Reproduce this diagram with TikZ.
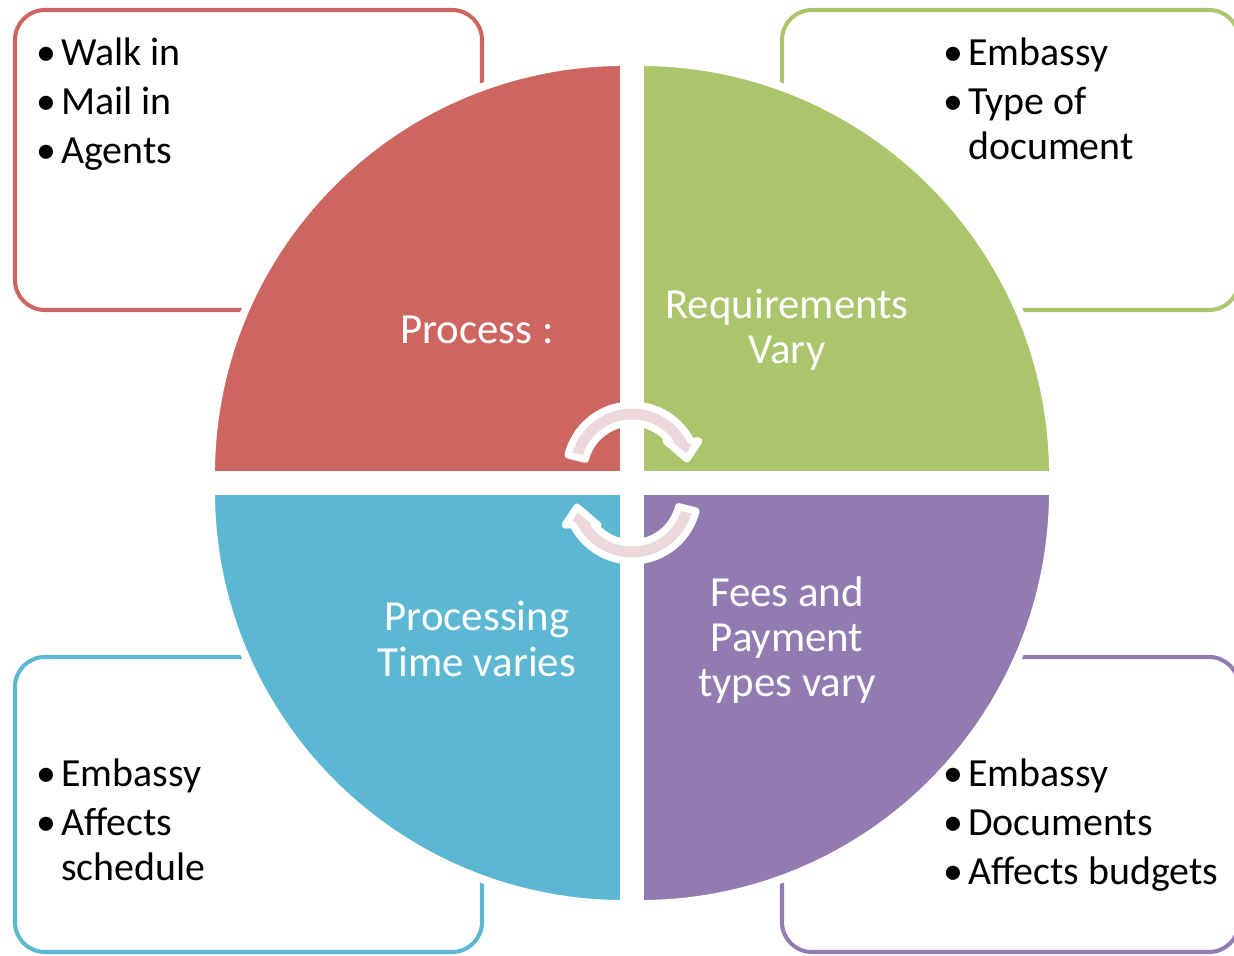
\documentclass[tikz,border=0pt]{standalone}
\usepackage{fontspec}
\setmainfont{Carlito}

\definecolor{procred}{HTML}{CD6660}
\definecolor{reqgreen}{HTML}{ABC56C}
\definecolor{timeblue}{HTML}{5CB8D2}
\definecolor{feepurple}{HTML}{927BB0}
\definecolor{cyclepink}{HTML}{ECD8DA}

\newcommand{\listfont}{\fontsize{22.7}{25.5}\selectfont}
\newcommand{\labelfont}{\fontsize{24.4}{25.8}\selectfont}
\newcommand{\li}[1]{\makebox[11.9pt][l]{\hspace*{-2.2pt}\textbullet}#1}
\newcommand{\cont}[1]{\hspace*{11.9pt}#1}
\newcommand{\bullist}[1]{\begin{tabular}[t]{@{}l@{}}#1\end{tabular}}

\tikzset{
  listbox/.style={draw=#1, line width=2.3pt, rounded corners=17pt},
  quarter/.style={fill=#1, draw=white, line width=4.5pt},
  listtext/.style={anchor=base west, inner sep=0pt, font=\listfont},
  quartertext/.style={text=white, align=center, inner sep=0pt, font=\labelfont},
  cyclearrow/.style={fill=cyclepink, draw=white, line width=4pt, line join=round}
}

\begin{document}
\begin{tikzpicture}[x=0.02cm, y=0.02cm]
        \useasboundingbox (-632,-473) rectangle (602,483);

        \draw[listbox=procred] (-617,173) rectangle (-150,473);
        \draw[listbox=reqgreen] (150,173) rectangle (607,473);
        \draw[listbox=timeblue] (-617,-469) rectangle (-150,-174);
        \draw[listbox=feepurple] (150,-469) rectangle (607,-174);

        \foreach \col/\sx/\sy/\a in {procred/-8/8/90, reqgreen/8/8/0, timeblue/-8/-8/180, feepurple/8/-8/270}
          \draw[quarter=\col] (\sx,\sy) -- ++(\a:413) arc[start angle=\a, end angle=\a+90, radius=413] -- cycle;

        \foreach \rot in {0,180}
          \draw[cyclearrow, rotate=\rot, shift={(0,12)}] (166:66) arc[start angle=166, end angle=27, radius=66]
            -- (67,30) -- (55,12) -- (34,30) -- (38:48) arc[start angle=38, end angle=166, radius=48] -- cycle;

        \node[quartertext] (process) at (-155,153) {Process :};
        \node[quartertext] (require) at (155,153) {Requirements\\Vary};
        \node[quartertext] (proctime) at (-155,-156) {Processing\\Time varies};
        \node[quartertext] (fees) at (155,-157) {Fees and\\Payment\\types vary};

        \node[listtext] (processlist) at (-592,417) {\bullist{\li{Walk in}\\[2.3pt] \li{Mail in}\\[2.3pt] \li{Agents}}};
        \node[listtext] (requirelist) at (315,417) {\bullist{\li{Embassy}\\[2.3pt] \li{Type of}\\ \cont{document}}};
        \node[listtext] (proctimelist) at (-592,-304) {\bullist{\li{Embassy}\\[2.3pt] \li{Affects}\\ \cont{schedule}}};
        \node[listtext] (feeslist) at (315,-304) {\bullist{\li{Embassy}\\[2.3pt] \li{Documents}\\[2.3pt] \li{Affects budgets}}};

    \end{tikzpicture}
\end{document}
